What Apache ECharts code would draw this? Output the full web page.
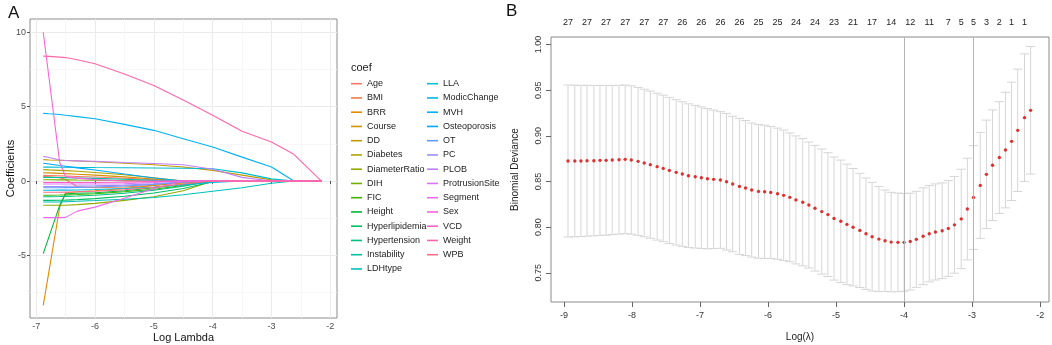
<!DOCTYPE html>
<html><head><meta charset="utf-8">
<script src="https://cdn.jsdelivr.net/npm/echarts@6/dist/echarts.min.js"></script>
<style>html,body{margin:0;padding:0;background:#fff}#c{width:1052px;height:345px}</style>
</head><body><div id="c"></div><script>
// ---------- Panel A: coefficient paths ----------
const coefNames = ['Age','BMI','BRR','Course','DD','Diabetes','DiameterRatio','DIH','FIC','Height',
  'Hyperlipidemia','Hypertension','Instability','LDHtype','LLA','ModicChange','MVH','Osteoporosis','OT','PC',
  'PLOB','ProtrusionSite','Segment','Sex','VCD','Weight','WPB'];
const logLambdaA = [-6.88, -6.78, -6.6, -6.5, -6.3, -6.0, -5.5, -5.0, -4.5, -4.0, -3.5, -3.0, -2.62, -2.15];
const coefAge            = [0.38, 0.37, 0.35, 0.34, 0.31, 0.27, 0.19, 0.10, 0, 0, 0, 0, 0, 0];
const coefBMI            = [0.30, 0.28, 0.22, 0.10, -0.38, -0.45, -0.40, -0.28, -0.08, 0, 0, 0, 0, 0];
const coefBRR            = [-8.36, -6.00, -1.76, -0.78, -0.72, -0.65, -0.50, -0.30, -0.12, 0, 0, 0, 0, 0];
const coefCourse         = [0.56, 0.55, 0.52, 0.50, 0.46, 0.40, 0.28, 0.14, 0, 0, 0, 0, 0, 0];
const coefDD             = [1.44, 1.42, 1.40, 1.38, 1.35, 1.30, 1.20, 1.10, 0.95, 0.72, 0.40, 0.08, 0, 0];
const coefDiabetes       = [0.77, 0.75, 0.72, 0.70, 0.66, 0.58, 0.42, 0.22, 0, 0, 0, 0, 0, 0];
const coefDiameterRatio  = [-1.63, -1.63, -1.63, -1.62, -1.58, -1.50, -1.30, -1.05, -0.65, 0, 0, 0, 0, 0];
const coefDIH            = [0.09, 0.09, 0.08, 0.08, 0.07, 0.06, 0.03, 0, 0, 0, 0, 0, 0, 0];
const coefFIC            = [-0.95, -0.95, -0.94, -0.93, -0.90, -0.85, -0.72, -0.55, -0.30, 0, 0, 0, 0, 0];
const coefHeight         = [-4.88, -3.72, -1.63, -0.85, -0.82, -0.78, -0.65, -0.45, -0.22, 0, 0, 0, 0, 0];
const coefHyperlipidemia = [-1.30, -1.30, -1.29, -1.28, -1.25, -1.18, -1.02, -0.80, -0.50, -0.05, 0, 0, 0, 0];
const coefHypertension   = [-1.05, -1.05, -1.04, -1.03, -1.00, -0.95, -0.82, -0.62, -0.35, 0, 0, 0, 0, 0];
const coefInstability    = [0.25, 0.25, 0.24, 0.23, 0.21, 0.18, 0.12, 0.05, 0, 0, 0, 0, 0, 0];
const coefLDHtype        = [-1.41, -1.41, -1.40, -1.39, -1.36, -1.31, -1.22, -1.10, -0.92, -0.68, -0.45, -0.15, 0, 0];
const coefLLA            = [0.94, 0.94, 0.93, 0.93, 0.92, 0.91, 0.90, 0.88, 0.86, 0.83, 0.55, 0.15, 0, 0];
const coefModicChange    = [-0.62, -0.62, -0.61, -0.61, -0.60, -0.57, -0.50, -0.40, -0.25, -0.10, 0, 0, 0, 0];
const coefMVH            = [4.55, 4.52, 4.47, 4.42, 4.33, 4.19, 3.81, 3.41, 2.85, 2.29, 1.61, 0.94, 0, 0];
const coefOsteoporosis   = [1.20, 1.15, 1.05, 1.00, 0.89, 0.74, 0.47, 0.21, 0, 0, 0, 0, 0, 0];
const coefOT             = [-0.45, -0.45, -0.45, -0.44, -0.43, -0.40, -0.33, -0.22, -0.08, 0, 0, 0, 0, 0];
const coefPC             = [-0.36, -0.36, -0.36, -0.35, -0.34, -0.32, -0.27, -0.18, -0.05, 0, 0, 0, 0, 0];
const coefPLOB           = [1.66, 1.58, 1.42, 1.38, 1.36, 1.33, 1.25, 1.18, 1.10, 0.80, 0.25, 0, 0, 0];
const coefProtrusionSite = [-0.20, -0.20, -0.20, -0.20, -0.20, -0.20, -0.18, -0.10, 0, 0, 0, 0, 0, 0];
const coefSegment        = [-2.46, -2.46, -2.46, -2.44, -2.02, -1.75, -1.15, -0.50, 0, 0, 0, 0, 0, 0];
const coefSex            = [10.0, 6.88, 1.25, 0.30, 0.20, 0.10, 0, 0, 0, 0, 0, 0, 0, 0];
const coefVCD            = [-0.10, -0.10, -0.10, -0.10, -0.10, -0.10, -0.08, -0.04, 0, 0, 0, 0, 0, 0];
const coefWeight         = [8.40, 8.38, 8.33, 8.30, 8.15, 7.88, 7.20, 6.43, 5.45, 4.42, 3.35, 2.62, 1.80, 0];
const coefWPB            = [-0.75, -0.75, -0.75, -0.74, -0.72, -0.68, -0.58, -0.42, -0.20, 0, 0, 0, 0, 0];
const coefPaths = [coefAge, coefBMI, coefBRR, coefCourse, coefDD, coefDiabetes, coefDiameterRatio, coefDIH,
  coefFIC, coefHeight, coefHyperlipidemia, coefHypertension, coefInstability, coefLDHtype, coefLLA,
  coefModicChange, coefMVH, coefOsteoporosis, coefOT, coefPC, coefPLOB, coefProtrusionSite, coefSegment,
  coefSex, coefVCD, coefWeight, coefWPB];
const ticksAx = [-7, -6, -5, -4, -3, -2];
const ticksAy = [-5, 0, 5, 10];

// ---------- Panel B: cross-validation curve ----------
const logLambdaB = [-8.94,-8.84,-8.75,-8.66,-8.56,-8.47,-8.38,-8.29,-8.19,-8.10,
  -8.01,-7.91,-7.82,-7.73,-7.63,-7.54,-7.45,-7.35,-7.26,-7.17,
  -7.07,-6.98,-6.89,-6.80,-6.70,-6.61,-6.52,-6.42,-6.33,-6.24,
  -6.14,-6.05,-5.96,-5.86,-5.77,-5.68,-5.59,-5.49,-5.40,-5.31,
  -5.21,-5.12,-5.03,-4.93,-4.84,-4.75,-4.65,-4.56,-4.47,-4.37,
  -4.28,-4.19,-4.09,-4.00,-3.91,-3.82,-3.72,-3.63,-3.54,-3.44,
  -3.35,-3.26,-3.16,-3.07,-2.98,-2.88,-2.79,-2.70,-2.60,-2.51,
  -2.42,-2.33,-2.23,-2.14];
const cvMean = [0.8724,0.8724,0.8724,0.8727,0.8727,0.8731,0.8731,0.8735,0.8738,0.8742,
  0.8735,0.8720,0.8702,0.8684,0.8662,0.8643,0.8621,0.8600,0.8581,0.8563,
  0.8552,0.8541,0.8530,0.8523,0.8516,0.8497,0.8472,0.8446,0.8428,0.8406,
  0.8391,0.8387,0.8380,0.8366,0.8348,0.8326,0.8298,0.8273,0.8242,0.8207,
  0.8170,0.8137,0.8094,0.8064,0.8030,0.7999,0.7964,0.7928,0.7895,0.7869,
  0.7851,0.7836,0.7833,0.7833,0.7842,0.7866,0.7900,0.7928,0.7947,0.7960,
  0.7986,0.8025,0.8090,0.8198,0.8324,0.8457,0.8578,0.8678,0.8762,0.8844,
  0.8939,0.9060,0.9199,0.9279];
const cvSE = [0.0832,0.0830,0.0828,0.0826,0.0823,0.0821,0.0819,0.0817,0.0815,0.0814,
  0.0812,0.0810,0.0808,0.0806,0.0804,0.0802,0.0800,0.0796,0.0792,0.0787,
  0.0781,0.0775,0.0768,0.0758,0.0748,0.0748,0.0742,0.0745,0.0740,0.0734,
  0.0732,0.0730,0.0723,0.0718,0.0715,0.0705,0.0701,0.0697,0.0690,0.0688,
  0.0685,0.0678,0.0674,0.0670,0.0660,0.0643,0.0625,0.0610,0.0595,0.0575,
  0.0555,0.0545,0.0540,0.0535,0.0530,0.0526,0.0530,0.0527,0.0526,0.0524,
  0.0525,0.0530,0.0544,0.0557,0.0568,0.0580,0.0594,0.0606,0.0612,0.0633,
  0.0648,0.0670,0.0698,0.0698];
const nzIndex  = [0,3,6,9,12,15,18,21,24,27,30,33,36,39,42,45,48,51,54,57,60,62,64,66,68,70,72];
const nzLabels = ['27','27','27','27','27','27','26','26','26','26','25','25','24','24','23','21','17','14','12','11','7','5','5','3','2','1','1'];
const logLambdaMin = -4.00;
const logLambda1se = -2.98;
const ticksBx = [-9, -8, -7, -6, -5, -4, -3, -2];
const ticksBy = [0.75, 0.80, 0.85, 0.90, 0.95, 1.00];

// ---------- helpers ----------
function hcl(h, c, l) {
  const hr = h * Math.PI / 180;
  const U = c * Math.cos(hr), V = c * Math.sin(hr);
  const xn = 95.047, yn = 100.0, zn = 108.883;
  const Y = l > 7.999592 ? yn * Math.pow((l + 16) / 116, 3) : yn * l / 903.3;
  const den = xn + 15 * yn + 3 * zn;
  const un = 4 * xn / den, vn = 9 * yn / den;
  const u = U / (13 * l) + un, v = V / (13 * l) + vn;
  const X = 9 * Y * u / (4 * v);
  const Z = -X / 3 - 5 * Y + 3 * Y / v;
  const lin = [(3.240479*X - 1.537150*Y - 0.498535*Z)/100,
               (-0.969256*X + 1.875992*Y + 0.041556*Z)/100,
               (0.055648*X - 0.204043*Y + 1.057311*Z)/100];
  const g = x => { x = x > 0.0031308 ? 1.055*Math.pow(x, 1/2.4) - 0.055 : 12.92*x;
    return Math.round(255*Math.min(1, Math.max(0, x))); };
  return 'rgb(' + lin.map(g).join(',') + ')';
}
const n = coefNames.length;
const palette = coefNames.map((_, i) => hcl(15 + 360 * i / n, 100, 65));
const FONT = "'Liberation Sans', Arial, sans-serif";

const chart = echarts.init(document.getElementById('c'), null, {renderer: 'canvas'});

const seriesA = coefNames.map((name, i) => ({
  name, type: 'line', xAxisIndex: 0, yAxisIndex: 0,
  data: logLambdaA.map((x, j) => [x, coefPaths[i][j]]),
  symbol: 'none', showSymbol: false, silent: true,
  lineStyle: {width: 1.1, color: palette[i]}, itemStyle: {color: palette[i]}
}));

const errData = logLambdaB.map((x, i) => [x, cvMean[i] - cvSE[i], cvMean[i] + cvSE[i]]);
const seriesB = [
  {
    type: 'custom', xAxisIndex: 1, yAxisIndex: 1, silent: true, z: 2,
    data: errData, encode: {x: 0, y: [1, 2]},
    renderItem: (params, api) => {
      const x = api.value(0);
      const pLo = api.coord([x, api.value(1)]), pHi = api.coord([x, api.value(2)]);
      const w = 4.6;
      const style = {stroke: '#d6d6d6', lineWidth: 1, fill: null};
      return {type: 'group', children: [
        {type: 'line', shape: {x1: pLo[0], y1: pLo[1], x2: pHi[0], y2: pHi[1]}, style},
        {type: 'line', shape: {x1: pHi[0]-w, y1: pHi[1], x2: pHi[0]+w, y2: pHi[1]}, style},
        {type: 'line', shape: {x1: pLo[0]-w, y1: pLo[1], x2: pLo[0]+w, y2: pLo[1]}, style}
      ]};
    }
  },
  {
    type: 'scatter', xAxisIndex: 1, yAxisIndex: 1, silent: true, z: 3,
    data: logLambdaB.map((x, i) => [x, cvMean[i]]),
    symbol: 'circle', symbolSize: 3.4, itemStyle: {color: '#dd0000'}
  },
  {
    type: 'line', xAxisIndex: 1, yAxisIndex: 1, data: [], silent: true, z: 4,
    markLine: {silent: true, symbol: 'none', label: {show: false},
      lineStyle: {color: '#b4b4b4', type: 'solid', width: 1},
      data: [{xAxis: logLambdaMin}, {xAxis: logLambda1se}]}
  }
];

const axisLabA = {fontSize: 9, color: '#4d4d4d', fontFamily: FONT};
const axisLabB = {fontSize: 9, color: '#333', fontFamily: FONT};
const legendText = {fontSize: 9, lineHeight: 10, color: '#222', fontFamily: FONT};

chart.setOption({
  animation: false,
  backgroundColor: '#fff',
  title: [
    {text: 'A', left: 3, top: 0, textStyle: {fontSize: 17, fontWeight: 'normal', color: '#111', fontFamily: FONT}},
    {text: 'B', left: 501, top: -2, textStyle: {fontSize: 17, fontWeight: 'normal', color: '#111', fontFamily: FONT}},
    {text: 'coef', left: 346, top: 57, textStyle: {fontSize: 11, fontWeight: 'normal', color: '#222', fontFamily: FONT}}
  ],
  legend: [
    {orient: 'vertical', left: 346, top: 73.7, itemWidth: 11, itemHeight: 1.6, itemGap: 4.25, icon: 'rect',
     selectedMode: false, data: coefNames.slice(0, 14), textStyle: legendText},
    {orient: 'vertical', left: 422, top: 73.7, itemWidth: 11, itemHeight: 1.6, itemGap: 4.25, icon: 'rect',
     selectedMode: false, data: coefNames.slice(14), textStyle: legendText}
  ],
  grid: [
    {left: 30, top: 19, width: 307, height: 299, outerBoundsMode: 'none', containLabel: false,
     show: true, borderColor: '#8c8c8c', borderWidth: 1, backgroundColor: '#fff'},
    {left: 551, top: 37, width: 498, height: 265, outerBoundsMode: 'none', containLabel: false,
     show: true, borderColor: '#8a8a8a', borderWidth: 1, backgroundColor: '#fff'}
  ],
  xAxis: [
    {type: 'value', gridIndex: 0, min: -7.105, max: -1.886, splitNumber: 5,
     name: 'Log Lambda', nameLocation: 'middle', nameGap: 14, nameMoveOverlap: false,
     nameTextStyle: {fontSize: 11, color: '#111', fontFamily: FONT},
     axisLine: {show: false},
     axisTick: {show: true, length: 3, lineStyle: {color: '#555'}, customValues: ticksAx},
     axisLabel: Object.assign({margin: 4, customValues: ticksAx, formatter: v => String(v)}, axisLabA),
     splitLine: {show: true, lineStyle: {color: '#ebebeb', width: 1}},
     minorTick: {show: false, splitNumber: 2},
     minorSplitLine: {show: true, lineStyle: {color: '#f3f3f3', width: 0.7}}},
    {type: 'value', gridIndex: 1, min: -9.19, max: -1.87, splitNumber: 7,
     name: 'Log(\u03bb)', nameLocation: 'middle', nameGap: 30, nameMoveOverlap: false,
     nameTextStyle: {fontSize: 10, color: '#222', fontFamily: FONT},
     axisLine: {show: false},
     axisTick: {show: true, length: 5, lineStyle: {color: '#666'}, customValues: ticksBx},
     axisLabel: Object.assign({margin: 9, customValues: ticksBx, formatter: v => String(v)}, axisLabB),
     splitLine: {show: false}},
    {type: 'value', gridIndex: 1, position: 'top', min: -9.19, max: -1.87,
     axisLine: {show: false}, axisTick: {show: false}, splitLine: {show: false},
     axisLabel: Object.assign({margin: 10,
       customValues: nzIndex.map(i => logLambdaB[i]),
       formatter: v => {
         let best = 0, bd = 1e9;
         nzIndex.forEach((ix, k) => { const d = Math.abs(logLambdaB[ix] - v); if (d < bd) { bd = d; best = k; } });
         return nzLabels[best];
       }}, {fontSize: 9, color: '#222', fontFamily: FONT})}
  ],
  yAxis: [
    {type: 'value', gridIndex: 0, min: -9.203, max: 10.893, splitNumber: 4,
     name: 'Coefficients', nameLocation: 'middle', nameGap: 14, nameRotate: 90, nameMoveOverlap: false,
     nameTextStyle: {fontSize: 11, color: '#111', fontFamily: FONT},
     axisLine: {show: false},
     axisTick: {show: true, length: 3, lineStyle: {color: '#555'}, customValues: ticksAy},
     axisLabel: Object.assign({margin: 4, customValues: ticksAy, formatter: v => String(v)}, axisLabA),
     splitLine: {show: true, lineStyle: {color: '#ebebeb', width: 1}},
     minorTick: {show: false, splitNumber: 2},
     minorSplitLine: {show: true, lineStyle: {color: '#f3f3f3', width: 0.7}}},
    {type: 'value', gridIndex: 1, min: 0.718, max: 1.0082, splitNumber: 5,
     name: 'Binomial Deviance', nameLocation: 'middle', nameGap: 31, nameRotate: 90, nameMoveOverlap: false,
     nameTextStyle: {fontSize: 10, color: '#222', fontFamily: FONT},
     axisLine: {show: false},
     axisTick: {show: true, length: 5, lineStyle: {color: '#666'}, customValues: ticksBy},
     axisLabel: Object.assign({margin: 8, rotate: 90, customValues: ticksBy, formatter: v => v.toFixed(2)}, axisLabB),
     splitLine: {show: false}}
  ],
  series: seriesA.concat(seriesB)
});
</script></body></html>
